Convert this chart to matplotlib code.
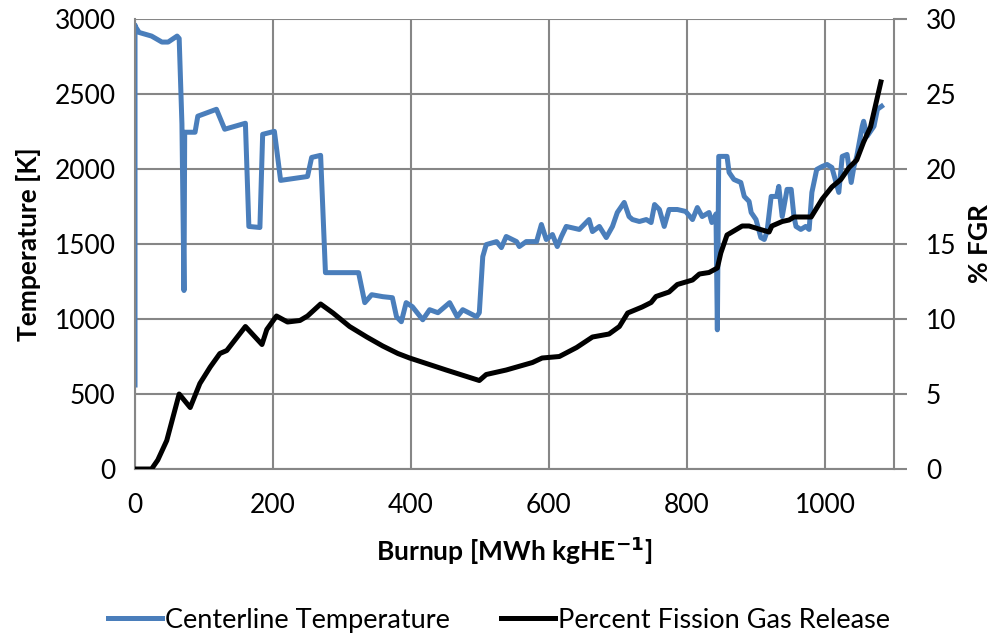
import matplotlib.pyplot as plt

plt.rcParams['font.family'] = ['Lato', 'DejaVu Sans']

# centerline temperature [K] vs burnup
burnup_t = [0, 0, 1, 6, 24, 39, 48, 61, 64, 68, 71, 72, 87, 91, 118, 130, 160,
            165, 181, 185, 202, 211, 250, 256, 269, 276, 324, 333, 343, 359,
            373, 379, 386, 393, 402, 417, 427, 439, 456, 467, 475, 495, 499,
            504, 509, 524, 531, 538, 553, 557, 567, 582, 589, 596, 605, 612,
            618, 625, 644, 658, 663, 673, 683, 692, 699, 709, 716, 721, 731,
            741, 748, 753, 760, 767, 774, 786, 798, 808, 815, 822, 832, 836,
            842, 844, 846, 849, 858, 861, 868, 878, 883, 890, 893, 900, 905,
            907, 912, 916, 922, 930, 933, 938, 945, 951, 955, 958, 965, 972,
            977, 981, 988, 996, 1003, 1010, 1016, 1020, 1025, 1032, 1038,
            1042, 1046, 1054, 1056, 1061, 1066, 1071, 1076, 1082]
temp_k = [560, 2960, 2946, 2910, 2886, 2846, 2846, 2886, 2870, 2300, 1190,
          2245, 2245, 2352, 2398, 2265, 2305, 1617, 1610, 2231, 2251, 1924,
          1950, 2077, 2091, 1309, 1309, 1109, 1162, 1149, 1142, 1015, 982,
          1109, 1082, 995, 1062, 1042, 1109, 1015, 1062, 1015, 1042, 1416,
          1496, 1516, 1476, 1550, 1516, 1483, 1516, 1516, 1630, 1530, 1563,
          1483, 1550, 1617, 1597, 1663, 1583, 1617, 1543, 1617, 1710, 1777,
          1683, 1663, 1650, 1663, 1643, 1763, 1730, 1617, 1730, 1730, 1717,
          1663, 1743, 1683, 1710, 1643, 1700, 928, 2084, 2084, 2084, 1977,
          1930, 1910, 1817, 1784, 1710, 1663, 1576, 1543, 1530, 1583, 1817,
          1817, 1884, 1683, 1864, 1864, 1683, 1617, 1597, 1617, 1597, 1844,
          1997, 2017, 2030, 2010, 1910, 1844, 2084, 2097, 1910, 2017, 2084,
          2285, 2318, 2218, 2251, 2285, 2398, 2418]

# percent fission gas release vs burnup
burnup_f = [0, 24, 33, 46, 64, 80, 94, 109, 123, 133, 160, 184, 191, 205, 221,
            239, 250, 269, 287, 311, 336, 359, 381, 398, 451, 499, 509, 538,
            576, 590, 615, 640, 663, 687, 702, 714, 735, 748, 755, 774, 786,
            808, 818, 832, 844, 849, 858, 880, 890, 904, 919, 923, 938, 948,
            955, 972, 980, 996, 1010, 1023, 1035, 1046, 1056, 1066, 1073, 1081]
fgr_pct = [0, 0, 0.6, 1.9, 5.0, 4.1, 5.7, 6.8, 7.7, 7.9, 9.5, 8.3, 9.3, 10.2,
           9.8, 9.9, 10.2, 11.0, 10.4, 9.5, 8.8, 8.2, 7.7, 7.4, 6.6, 5.9, 6.3,
           6.6, 7.1, 7.4, 7.5, 8.1, 8.8, 9.0, 9.5, 10.4, 10.8, 11.1, 11.5,
           11.8, 12.3, 12.6, 13.0, 13.1, 13.4, 14.4, 15.6, 16.2, 16.2, 16.0,
           15.8, 16.2, 16.5, 16.6, 16.8, 16.8, 16.8, 18.0, 18.8, 19.3, 20.1,
           20.6, 21.8, 22.8, 24.2, 25.8]

grid_c = '#868686'
fs = 19

fig = plt.figure(figsize=(9.92, 6.41), dpi=100)
ax = fig.add_axes([0.1361, 0.2683, 0.7651, 0.7021])
ax2 = ax.twinx()

l1, = ax.plot(burnup_t, temp_k, color='#4a7ebb', lw=3.6, solid_joinstyle='round')
l2, = ax2.plot(burnup_f, fgr_pct, color='black', lw=3.6, solid_joinstyle='round')

ax.set_xlim(0, 1100)
ax.set_ylim(0, 3000)
ax2.set_ylim(0, 30)
ax.set_xticks(range(0, 1001, 200))
ax.set_yticks(range(0, 3001, 500))
ax2.set_yticks(range(0, 31, 5))

ax.grid(True, color=grid_c, lw=1.5)
ax.set_axisbelow(True)
for a in (ax, ax2):
    for s in a.spines.values():
        s.set_visible(False)
for s in (ax2.spines['right'], ax.spines['bottom'], ax.spines['left']):
    s.set_visible(True)
    s.set_color(grid_c)
    s.set_linewidth(1.5)

ax.tick_params(axis='both', length=0, labelsize=fs, pad=14)
ax.tick_params(axis='x', pad=17)
ax2.tick_params(axis='y', length=9, width=1.5, color=grid_c, labelsize=fs, pad=14)

ax.set_ylabel('Temperature [K]', fontsize=fs, fontweight='bold', labelpad=10)
ax2.set_ylabel('% FGR', fontsize=fs, fontweight='bold', labelpad=8)
ax.set_xlabel('Burnup [MWh kgHE$^{\\mathbf{-1}}$]', fontsize=fs, fontweight='bold', labelpad=12)

fig.legend([l1, l2], ['Centerline Temperature', 'Percent Fission Gas Release'],
           loc='lower center', bbox_to_anchor=(0.503, -0.025), ncol=2, frameon=False,
           fontsize=19.5, handlelength=2.0, handletextpad=0.1, columnspacing=1.9)

fig.savefig('out.png', dpi=100)
